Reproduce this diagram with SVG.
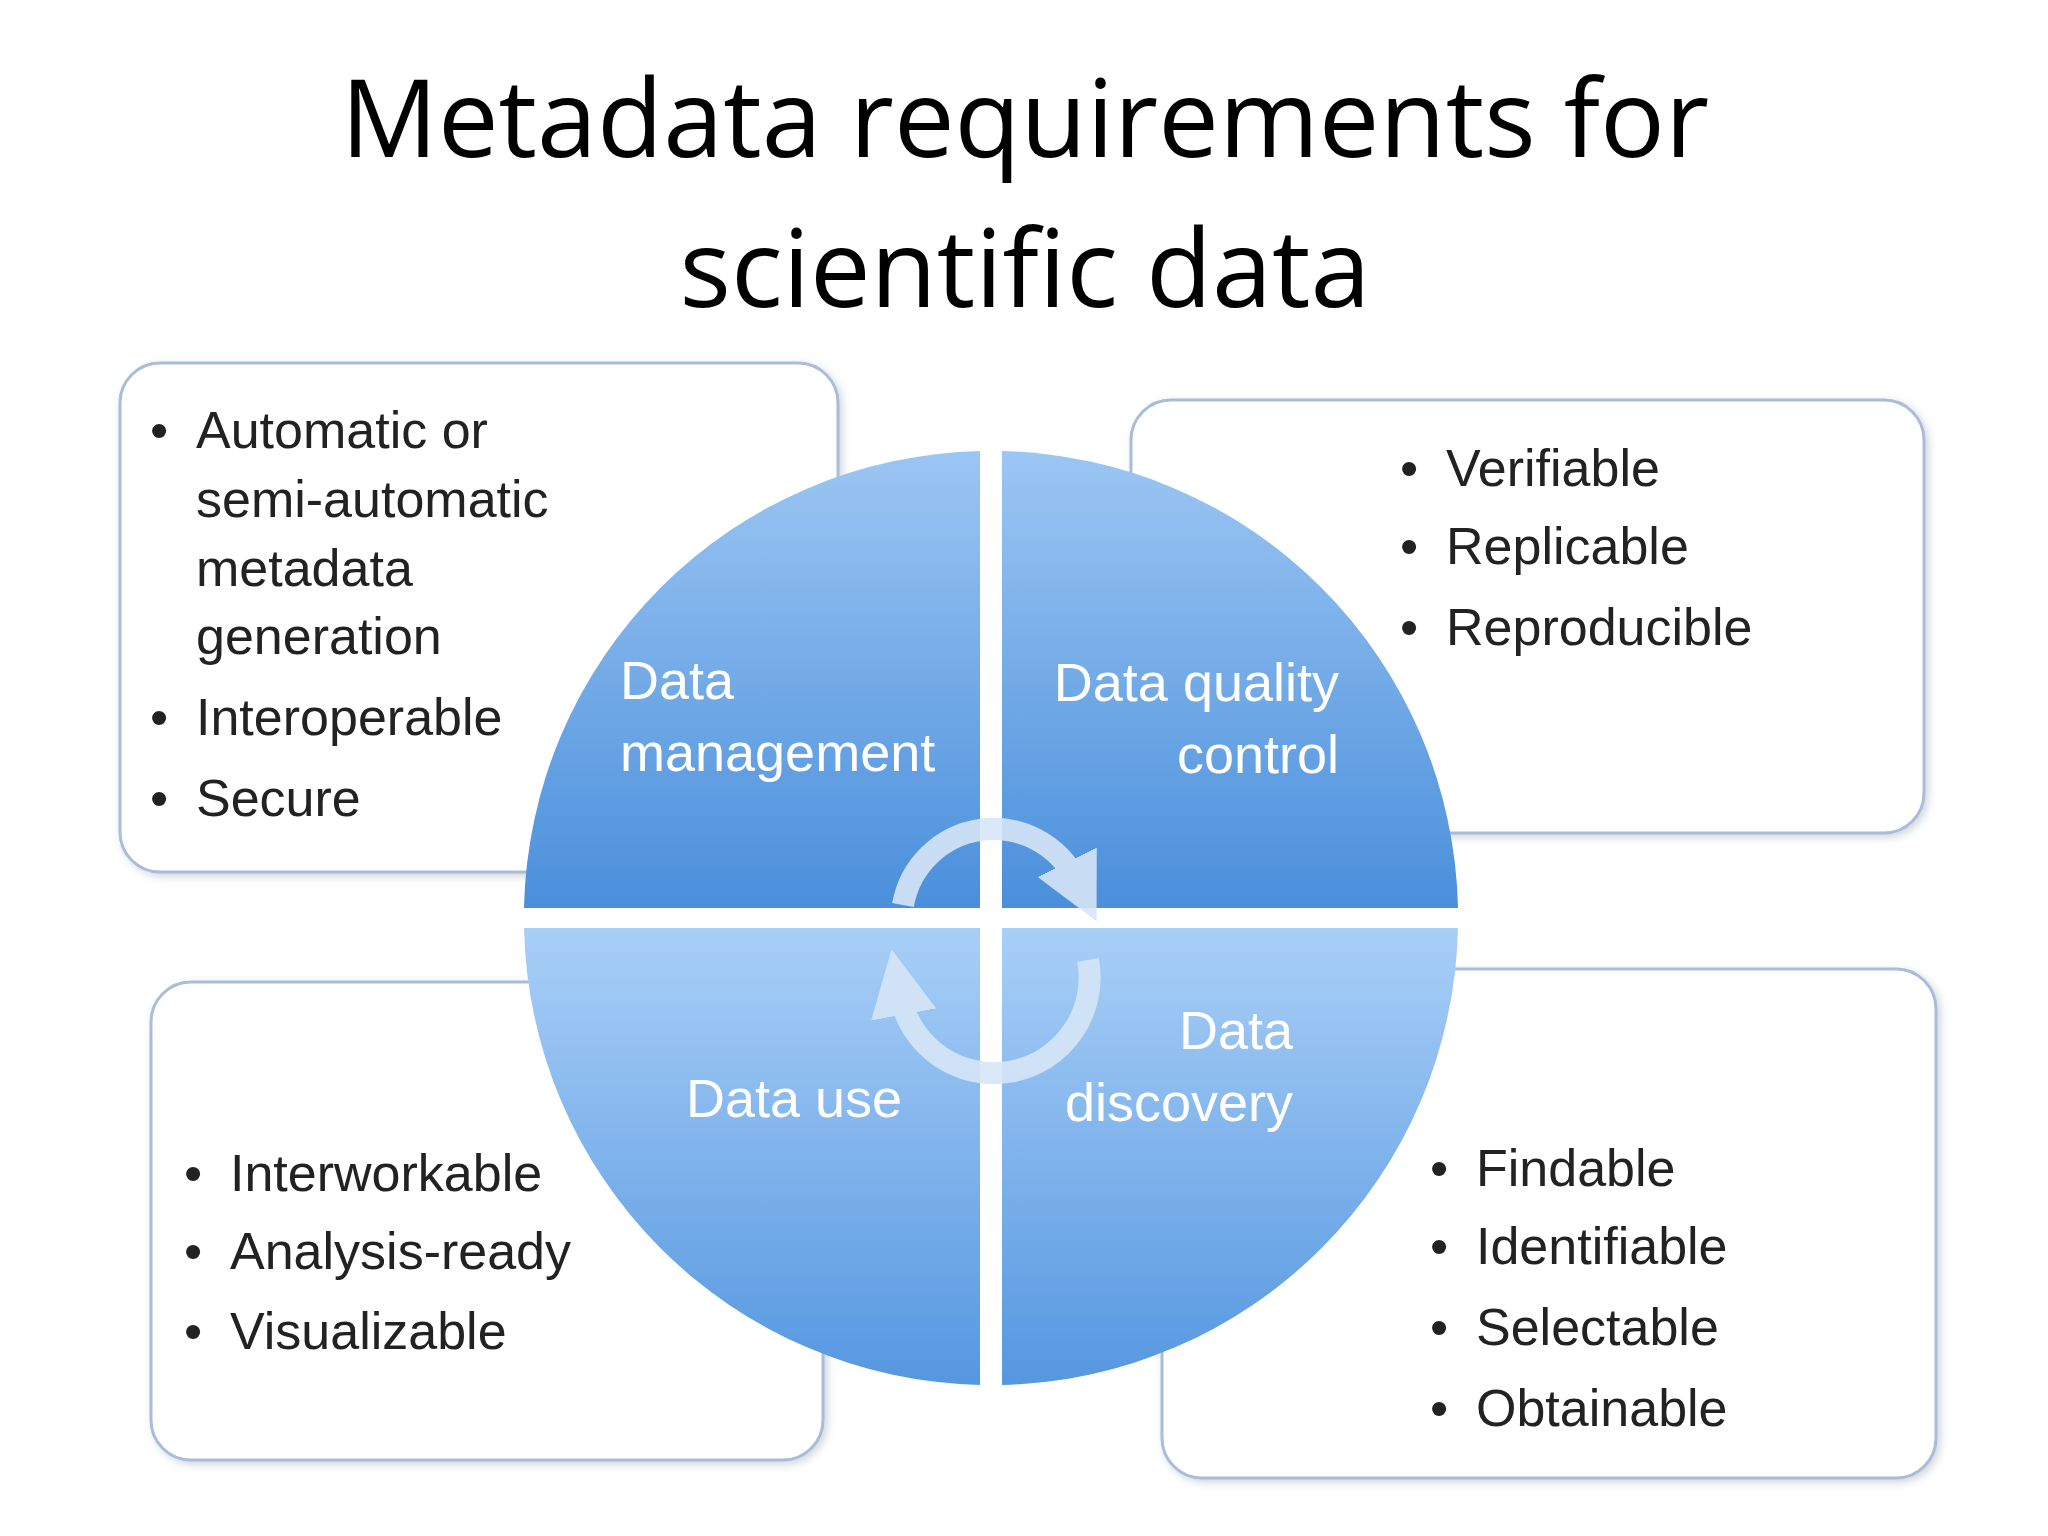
<svg xmlns="http://www.w3.org/2000/svg" width="2048" height="1536" viewBox="0 0 2048 1536">
<defs>
<linearGradient id="gt" x1="0" y1="0" x2="0" y2="1"><stop offset="0" stop-color="#9cc6f3"/><stop offset="1" stop-color="#4a8fdb"/></linearGradient>
<linearGradient id="gb" x1="0" y1="0" x2="0" y2="1"><stop offset="0" stop-color="#a9cff7"/><stop offset="1" stop-color="#5597e0"/></linearGradient>
<marker id="ah" viewBox="0 0 10 10" refX="3" refY="5" markerWidth="3" markerHeight="3" orient="auto"><path d="M0,0 L10,5 L0,10 Z" fill="#d6e6f7"/></marker>
<filter id="sh" x="-5%" y="-5%" width="110%" height="110%"><feDropShadow dx="3" dy="3" stdDeviation="4" flood-color="#8899aa" flood-opacity="0.4"/></filter>
</defs>
<style>
.box{fill:#fff;stroke:#a9bdd9;stroke-width:3;filter:url(#sh)}
.t{font-family:"Liberation Sans",Arial,sans-serif;font-size:52px;fill:#222}
.q{font-family:"Liberation Sans",Arial,sans-serif;font-size:54px;fill:#fff}
.h{font-family:"Open Sans","Liberation Sans",sans-serif;font-size:108px;fill:#000;text-anchor:middle}
</style>
<rect width="2048" height="1536" fill="#fff"/>
<text class="h" x="1025" y="157">Metadata requirements for</text>
<text class="h" x="1025" y="307">scientific data</text>
<g id="box-tl"><rect class="box" x="120" y="363" width="718" height="509" rx="40"/>
<text class="t"><tspan x="150" y="448">•</tspan><tspan x="196" y="448">Automatic or</tspan><tspan x="196" y="517">semi-automatic</tspan><tspan x="196" y="586">metadata</tspan><tspan x="196" y="654">generation</tspan><tspan x="150" y="735">•</tspan><tspan x="196" y="735">Interoperable</tspan><tspan x="150" y="816">•</tspan><tspan x="196" y="816">Secure</tspan></text></g>
<g id="box-tr"><rect class="box" x="1131" y="400" width="793" height="433" rx="40"/>
<text class="t"><tspan x="1400" y="486">•</tspan><tspan x="1446" y="486">Verifiable</tspan><tspan x="1400" y="564">•</tspan><tspan x="1446" y="564">Replicable</tspan><tspan x="1400" y="645">•</tspan><tspan x="1446" y="645">Reproducible</tspan></text></g>
<g id="box-bl"><rect class="box" x="151" y="982" width="672" height="478" rx="40"/>
<text class="t"><tspan x="184" y="1191">•</tspan><tspan x="230" y="1191">Interworkable</tspan><tspan x="184" y="1269">•</tspan><tspan x="230" y="1269">Analysis-ready</tspan><tspan x="184" y="1349">•</tspan><tspan x="230" y="1349">Visualizable</tspan></text></g>
<g id="box-br"><rect class="box" x="1162" y="969" width="774" height="509" rx="40"/>
<text class="t"><tspan x="1430" y="1186">•</tspan><tspan x="1476" y="1186">Findable</tspan><tspan x="1430" y="1264">•</tspan><tspan x="1476" y="1264">Identifiable</tspan><tspan x="1430" y="1345">•</tspan><tspan x="1476" y="1345">Selectable</tspan><tspan x="1430" y="1426">•</tspan><tspan x="1476" y="1426">Obtainable</tspan></text></g>
<g id="q-management"><path d="M980,908 L980,451 A467,467 0 0 0 524,908 Z" fill="url(#gt)"/>
<text class="q"><tspan x="620" y="699">Data</tspan><tspan x="620" y="771">management</tspan></text></g>
<g id="q-quality"><path d="M1002,908 L1002,451 A467,467 0 0 1 1458,908 Z" fill="url(#gt)"/>
<text class="q" text-anchor="end"><tspan x="1339" y="701">Data  quality</tspan><tspan x="1339" y="773">control</tspan></text></g>
<g id="q-use"><path d="M980,928 L524,928 A467,467 0 0 0 980,1385 Z" fill="url(#gb)"/>
<text class="q" x="686" y="1117">Data use</text></g>
<g id="q-discovery"><path d="M1002,928 L1002,1385 A467,467 0 0 0 1458,928 Z" fill="url(#gb)"/>
<text class="q" text-anchor="end"><tspan x="1293" y="1049">Data</tspan><tspan x="1293" y="1121">discovery</tspan></text></g>
<g id="connectors" fill="none" stroke="#d6e6f7" stroke-width="22" opacity="0.9">
<path d="M903,905 A92,92 0 0 1 1076,880" marker-end="url(#ah)"/>
<path d="M1088,960 A95,95 0 0 1 900,995" marker-end="url(#ah)"/>
</g>
</svg>
